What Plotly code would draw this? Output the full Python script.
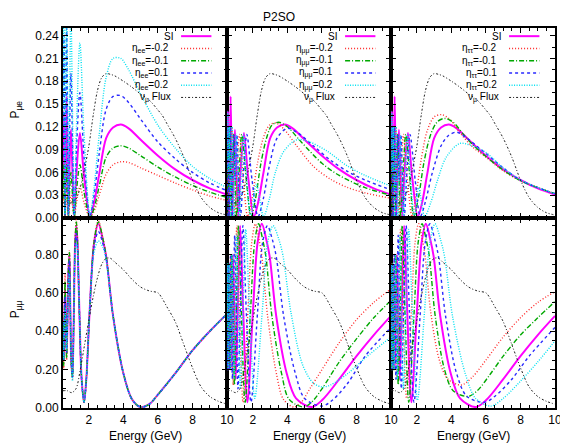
import plotly.graph_objects as go
from plotly.subplots import make_subplots

# ---------------- top row: P_mu e ----------------
E_top_si = [0.50,0.53,0.556,0.585,0.62,0.66,0.71,0.76,0.81,0.88,0.96,1.05,1.15,1.28,1.48,1.72,2.06,2.3,2.6,3.0,3.4,3.85,4.3,5.0,6.0,7.0,8.0,9.0,10.0]
pme_si = [0.05,0.12,0.14,0.07,0.003,0.07,0.16,0.08,0.003,0.07,0.116,0.06,0.002,0.06,0.112,0.055,0.002,0.02,0.058,0.105,0.119,0.123,0.118,0.103,0.082,0.064,0.05,0.039,0.031]

# eta_ee (same energy grid as SI)
pme_ee_m02 = [0.015,0.035,0.045,0.02,0.001,0.015,0.04,0.02,0.001,0.018,0.03,0.016,0.001,0.02,0.042,0.02,0.001,0.009,0.03,0.058,0.07,0.074,0.073,0.066,0.056,0.046,0.037,0.029,0.023]
pme_ee_m01 = [0.025,0.06,0.07,0.035,0.002,0.035,0.07,0.035,0.002,0.035,0.06,0.03,0.001,0.035,0.07,0.034,0.001,0.013,0.042,0.08,0.092,0.095,0.092,0.082,0.067,0.054,0.043,0.034,0.027]
pme_ee_p01 = [0.08,0.2,0.24,0.12,0.004,0.12,0.25,0.13,0.004,0.11,0.19,0.1,0.003,0.09,0.165,0.08,0.003,0.03,0.085,0.143,0.16,0.161,0.152,0.13,0.1,0.078,0.06,0.046,0.036]
pme_ee_p02 = [0.12,0.3,0.35,0.17,0.005,0.17,0.3,0.18,0.005,0.15,0.27,0.14,0.004,0.12,0.23,0.11,0.004,0.04,0.11,0.185,0.21,0.21,0.195,0.163,0.122,0.092,0.068,0.052,0.04]

# eta_mumu
E_mm_m02 = [0.512,0.55,0.586,0.625,0.668,0.73,0.79,0.87,0.95,1.08,1.22,1.45,1.70,1.95,2.25,2.6,2.95,3.32,3.8,4.5,5.5,6.5,7.5,8.5,10.0]
pme_mm_m02 = [0.002,0.08,0.12,0.06,0.002,0.07,0.12,0.06,0.002,0.06,0.11,0.05,0.002,0.025,0.07,0.105,0.122,0.125,0.117,0.096,0.068,0.051,0.04,0.033,0.026]
E_mm_m01 = [0.513,0.54,0.572,0.61,0.656,0.70,0.747,0.81,0.885,0.97,1.06,1.2,1.36,1.62,1.9,2.15,2.45,2.8,3.1,3.5,4.0,4.8,6.0,7.0,8.5,10.0]
pme_mm_m01 = [0.11,0.06,0.002,0.06,0.12,0.06,0.002,0.06,0.11,0.05,0.002,0.06,0.11,0.05,0.002,0.025,0.07,0.106,0.122,0.126,0.12,0.1,0.072,0.056,0.04,0.03]
E_mm_p01 = [0.50,0.56,0.59,0.62,0.66,0.69,0.74,0.79,0.84,0.90,0.98,1.07,1.17,1.28,1.45,1.65,1.95,2.3,2.6,2.95,3.4,3.98,4.6,5.5,6.5,7.5,8.5,10.0]
pme_mm_p01 = [0.002,0.12,0.06,0.002,0.06,0.12,0.06,0.002,0.06,0.11,0.05,0.11,0.05,0.002,0.06,0.11,0.05,0.002,0.025,0.068,0.105,0.118,0.112,0.095,0.076,0.061,0.05,0.037]
E_mm_p02 = [0.50,0.55,0.60,0.64,0.675,0.71,0.75,0.79,0.84,0.90,0.96,1.03,1.12,1.22,1.33,1.46,1.64,1.88,2.2,2.62,2.95,3.3,3.8,4.55,5.3,6.3,7.5,8.5,10.0]
pme_mm_p02 = [0.06,0.14,0.06,0.12,0.06,0.002,0.06,0.12,0.06,0.002,0.06,0.11,0.05,0.002,0.06,0.11,0.05,0.002,0.045,0.002,0.025,0.06,0.088,0.103,0.1,0.088,0.068,0.056,0.042]

# eta_tautau
E_tt_m02 = [0.512,0.55,0.586,0.625,0.668,0.73,0.79,0.87,0.95,1.08,1.22,1.45,1.72,1.95,2.25,2.6,3.0,3.44,3.9,4.5,5.2,6.0,7.0,8.0,9.0,10.0]
pme_tt_m02 = [0.002,0.08,0.12,0.06,0.002,0.07,0.12,0.06,0.002,0.06,0.11,0.05,0.002,0.03,0.077,0.115,0.133,0.136,0.13,0.112,0.094,0.08,0.062,0.049,0.04,0.032]
E_tt_m01 = [0.513,0.54,0.572,0.61,0.656,0.70,0.747,0.81,0.885,0.97,1.06,1.2,1.36,1.6,1.82,2.1,2.4,2.8,3.2,3.63,4.1,4.7,5.3,6.0,7.0,8.0,9.0,10.0]
pme_tt_m01 = [0.11,0.06,0.002,0.06,0.12,0.06,0.002,0.06,0.11,0.05,0.002,0.06,0.11,0.05,0.002,0.028,0.072,0.11,0.127,0.131,0.126,0.11,0.095,0.081,0.063,0.049,0.04,0.032]
E_tt_p01 = [0.50,0.56,0.59,0.62,0.66,0.69,0.74,0.79,0.84,0.90,0.98,1.07,1.17,1.27,1.42,1.6,1.9,2.2,2.5,2.9,3.4,3.8,4.29,4.9,5.5,6.0,7.0,8.0,9.0,10.0]
pme_tt_p01 = [0.002,0.12,0.06,0.002,0.06,0.12,0.06,0.002,0.06,0.11,0.05,0.11,0.05,0.002,0.06,0.11,0.05,0.002,0.022,0.06,0.095,0.108,0.113,0.105,0.094,0.085,0.066,0.05,0.04,0.032]
E_tt_p02 = [0.50,0.55,0.60,0.64,0.675,0.71,0.75,0.79,0.84,0.90,0.96,1.03,1.12,1.22,1.33,1.46,1.64,1.85,2.1,2.45,2.8,3.2,3.7,4.48,5.2,6.0,7.0,8.0,9.0,10.0]
pme_tt_p02 = [0.06,0.14,0.06,0.12,0.06,0.002,0.06,0.12,0.06,0.002,0.06,0.11,0.05,0.002,0.06,0.11,0.05,0.002,0.04,0.002,0.02,0.05,0.08,0.098,0.095,0.086,0.066,0.05,0.04,0.032]

# ---------------- bottom row: P_mu mu ----------------
E_bl = [0.50,0.54,0.58,0.62,0.66,0.71,0.76,0.82,0.87,0.92,0.98,1.05,1.12,1.20,1.27,1.33,1.45,1.58,1.72,1.85,2.04,2.30,2.55,2.80,3.00,3.40,4.00,4.50,5.00,5.50,6.00,7.00,8.00,9.00,10.0]
pmm_ee_si  = [0.45,0.25,0.45,0.62,0.45,0.28,0.45,0.72,0.80,0.55,0.25,0.17,0.45,0.85,0.95,0.88,0.50,0.15,0.03,0.15,0.50,0.86,0.96,0.88,0.79,0.48,0.18,0.045,0.005,0.02,0.07,0.18,0.30,0.40,0.49]
pmm_ee_m02 = [0.45,0.20,0.50,0.70,0.45,0.25,0.45,0.75,0.82,0.55,0.22,0.15,0.45,0.87,0.98,0.90,0.50,0.15,0.03,0.15,0.50,0.87,0.975,0.89,0.79,0.48,0.18,0.045,0.005,0.02,0.07,0.18,0.30,0.40,0.49]
pmm_ee_m01 = [0.45,0.22,0.48,0.66,0.45,0.26,0.45,0.74,0.81,0.55,0.23,0.16,0.45,0.86,0.97,0.89,0.50,0.15,0.03,0.15,0.50,0.865,0.97,0.885,0.79,0.48,0.18,0.045,0.005,0.02,0.07,0.18,0.30,0.40,0.49]
pmm_ee_p01 = [0.45,0.25,0.43,0.58,0.45,0.29,0.45,0.70,0.77,0.55,0.25,0.16,0.45,0.83,0.91,0.86,0.50,0.15,0.03,0.15,0.50,0.84,0.92,0.86,0.78,0.48,0.18,0.045,0.005,0.02,0.07,0.18,0.30,0.40,0.49]
pmm_ee_p02 = [0.45,0.25,0.40,0.52,0.45,0.30,0.45,0.64,0.70,0.55,0.25,0.14,0.45,0.80,0.86,0.83,0.50,0.15,0.03,0.15,0.50,0.81,0.87,0.84,0.77,0.48,0.18,0.045,0.005,0.02,0.07,0.18,0.30,0.40,0.49]

E_mid_si = [0.50,0.53,0.56,0.595,0.63,0.67,0.72,0.78,0.84,0.92,1.008,1.12,1.26,1.44,1.68,2.0,2.27,2.52,2.77,2.97,3.35,3.96,4.5,5.41,6.0,7.0,8.0,9.0,10.0]
pmm_si = [0.75,0.45,0.2,0.45,0.75,0.45,0.2,0.5,0.8,0.5,0.15,0.5,0.95,0.5,0.03,0.5,0.86,0.96,0.88,0.79,0.48,0.18,0.05,0.005,0.04,0.15,0.27,0.38,0.48]

E_mm_b_m02 = [0.50,0.535,0.57,0.61,0.66,0.713,0.78,0.856,0.95,1.07,1.22,1.43,1.71,1.93,2.14,2.35,2.52,2.85,3.36,3.77,4.37,4.8,5.3,6.0,7.0,8.0,9.0,10.0]
pmm_mm_m02 = [0.55,0.75,0.45,0.2,0.5,0.8,0.5,0.12,0.5,0.95,0.5,0.03,0.5,0.86,0.96,0.88,0.79,0.48,0.18,0.045,0.005,0.03,0.1,0.2,0.34,0.46,0.55,0.62]
E_mm_b_m01 = [0.50,0.518,0.55,0.583,0.62,0.666,0.72,0.777,0.85,0.932,1.04,1.165,1.33,1.55,1.86,2.1,2.33,2.56,2.75,3.1,3.66,4.1,4.94,5.4,6.0,7.0,8.0,9.0,10.0]
pmm_mm_m01 = [0.35,0.2,0.45,0.75,0.45,0.2,0.5,0.8,0.5,0.12,0.5,0.95,0.5,0.03,0.5,0.86,0.96,0.88,0.79,0.48,0.18,0.045,0.005,0.03,0.1,0.24,0.36,0.47,0.56]
E_mm_b_p01 = [0.50,0.516,0.54,0.568,0.60,0.631,0.67,0.71,0.76,0.811,0.87,0.947,1.04,1.136,1.27,1.42,1.62,1.89,2.27,2.56,2.84,3.12,3.35,3.78,4.46,5.0,6.0,6.6,7.5,8.5,10.0]
pmm_mm_p01 = [0.4,0.2,0.45,0.75,0.45,0.2,0.5,0.8,0.5,0.15,0.5,0.9,0.5,0.1,0.5,0.95,0.5,0.03,0.5,0.86,0.95,0.88,0.79,0.48,0.18,0.05,0.01,0.04,0.13,0.27,0.42]
E_mm_b_p02 = [0.50,0.528,0.55,0.576,0.60,0.634,0.67,0.704,0.745,0.79,0.85,0.906,0.98,1.057,1.16,1.27,1.42,1.585,1.81,2.11,2.54,2.85,3.17,3.5,3.75,4.2,4.9,5.5,6.0,6.5,7.5,8.5,10.0]
pmm_mm_p02 = [0.45,0.75,0.45,0.2,0.45,0.75,0.45,0.2,0.5,0.8,0.5,0.15,0.5,0.9,0.5,0.1,0.5,0.93,0.5,0.05,0.5,0.86,0.95,0.88,0.79,0.5,0.22,0.13,0.11,0.12,0.18,0.26,0.37]

E_tt_b_m02 = [0.50,0.525,0.56,0.60,0.65,0.70,0.77,0.84,0.94,1.05,1.2,1.4,1.68,1.89,2.1,2.31,2.48,2.8,3.3,3.8,4.58,5.2,6.0,7.0,8.0,9.0,10.0]
pmm_tt_m02 = [0.45,0.75,0.45,0.2,0.5,0.8,0.5,0.15,0.5,0.93,0.5,0.05,0.5,0.86,0.96,0.88,0.79,0.5,0.25,0.15,0.12,0.16,0.25,0.37,0.47,0.55,0.606]
E_tt_b_m01 = [0.50,0.511,0.54,0.575,0.61,0.657,0.71,0.767,0.84,0.92,1.03,1.15,1.31,1.53,1.84,2.07,2.3,2.53,2.72,3.06,3.6,4.1,4.96,5.5,6.2,7.0,8.0,9.0,10.0]
pmm_tt_m01 = [0.3,0.2,0.45,0.75,0.45,0.2,0.5,0.8,0.5,0.12,0.5,0.95,0.5,0.03,0.5,0.86,0.96,0.88,0.79,0.48,0.2,0.09,0.06,0.09,0.17,0.27,0.38,0.47,0.555]
E_tt_b_p01 = [0.50,0.525,0.55,0.58,0.611,0.65,0.688,0.735,0.786,0.85,0.917,1.0,1.1,1.23,1.375,1.57,1.83,2.2,2.48,2.75,3.03,3.25,3.66,4.3,4.9,5.91,6.5,7.5,8.5,10.0]
pmm_tt_p01 = [0.2,0.45,0.75,0.45,0.2,0.5,0.8,0.5,0.15,0.5,0.9,0.5,0.1,0.5,0.95,0.5,0.03,0.5,0.86,0.96,0.88,0.79,0.48,0.18,0.06,0.03,0.06,0.15,0.27,0.42]
E_tt_b_p02 = [0.50,0.508,0.53,0.555,0.58,0.61,0.64,0.678,0.72,0.763,0.82,0.871,0.94,1.017,1.11,1.22,1.36,1.525,1.74,2.03,2.44,2.75,3.05,3.36,3.6,4.06,4.8,5.4,6.29,7.0,8.0,9.0,10.0]
pmm_tt_p02 = [0.7,0.75,0.45,0.2,0.45,0.75,0.45,0.2,0.5,0.8,0.5,0.15,0.5,0.9,0.5,0.1,0.5,0.93,0.5,0.04,0.5,0.86,0.96,0.88,0.79,0.48,0.18,0.05,0.01,0.05,0.14,0.24,0.35]

# ---------------- nu_mu flux (arbitrary scale, drawn in both rows) ----------------
E_flux = [0.5,0.75,1.0,1.25,1.5,1.75,2.0,2.25,2.5,2.75,3.0,3.25,3.5,4.0,4.5,5.0,5.5,6.0,6.25,6.5,7.0,7.5,8.0,8.5,9.0,9.5,10.0]
flux_top = [0.02,0.02,0.02,0.025,0.04,0.065,0.095,0.135,0.168,0.185,0.19,0.189,0.187,0.18,0.172,0.163,0.155,0.142,0.135,0.125,0.105,0.08,0.05,0.027,0.014,0.007,0.004]
flux_bot = [0.09,0.09,0.08,0.10,0.2,0.33,0.46,0.58,0.68,0.75,0.78,0.78,0.76,0.72,0.67,0.63,0.61,0.60,0.57,0.53,0.45,0.33,0.21,0.11,0.06,0.035,0.02]

yticks_top = [0.00,0.03,0.06,0.09,0.12,0.15,0.18,0.21,0.24]
yticks_bot = [0.00,0.20,0.40,0.60,0.80]
xticks = [2,4,6,8,10]

# ---------------- styles ----------------
ST = {
    "si":  dict(color="#ff00ff", width=2.0, dash="solid"),
    "m02": dict(color="#ff2a2a", width=1.4, dash="1px,2px"),
    "m01": dict(color="#00a800", width=1.4, dash="5px,2px,1px,2px"),
    "p01": dict(color="#2a2aff", width=1.4, dash="3px,3px"),
    "p02": dict(color="#00e0f0", width=1.4, dash="1px,1.5px"),
    "flux": dict(color="#202020", width=1.0, dash="2px,2px,1px,2px"),
}

fig = make_subplots(rows=2, cols=3, horizontal_spacing=0, vertical_spacing=0)

def add(x, y, st, r, c):
    fig.add_trace(go.Scatter(x=x, y=y, mode="lines", showlegend=False, hoverinfo="skip",
                             line=dict(shape="spline", smoothing=0.9, **ST[st])), row=r, col=c)

panels = [
    (1, 1, [(E_top_si, pme_si, "si"), (E_top_si, pme_ee_m02, "m02"), (E_top_si, pme_ee_m01, "m01"),
            (E_top_si, pme_ee_p01, "p01"), (E_top_si, pme_ee_p02, "p02"), (E_flux, flux_top, "flux")]),
    (1, 2, [(E_top_si, pme_si, "si"), (E_mm_m02, pme_mm_m02, "m02"), (E_mm_m01, pme_mm_m01, "m01"),
            (E_mm_p01, pme_mm_p01, "p01"), (E_mm_p02, pme_mm_p02, "p02"), (E_flux, flux_top, "flux")]),
    (1, 3, [(E_top_si, pme_si, "si"), (E_tt_m02, pme_tt_m02, "m02"), (E_tt_m01, pme_tt_m01, "m01"),
            (E_tt_p01, pme_tt_p01, "p01"), (E_tt_p02, pme_tt_p02, "p02"), (E_flux, flux_top, "flux")]),
    (2, 1, [(E_bl, pmm_ee_si, "si"), (E_bl, pmm_ee_m02, "m02"), (E_bl, pmm_ee_m01, "m01"),
            (E_bl, pmm_ee_p01, "p01"), (E_bl, pmm_ee_p02, "p02"), (E_flux, flux_bot, "flux")]),
    (2, 2, [(E_mid_si, pmm_si, "si"), (E_mm_b_m02, pmm_mm_m02, "m02"), (E_mm_b_m01, pmm_mm_m01, "m01"),
            (E_mm_b_p01, pmm_mm_p01, "p01"), (E_mm_b_p02, pmm_mm_p02, "p02"), (E_flux, flux_bot, "flux")]),
    (2, 3, [(E_mid_si, pmm_si, "si"), (E_tt_b_m02, pmm_tt_m02, "m02"), (E_tt_b_m01, pmm_tt_m01, "m01"),
            (E_tt_b_p01, pmm_tt_p01, "p01"), (E_tt_b_p02, pmm_tt_p02, "p02"), (E_flux, flux_bot, "flux")]),
]
for r, c, curves in panels:
    for x, y, st in curves:
        add(x, y, st, r, c)

FONT = "Liberation Sans, Arial, sans-serif"
axis_common = dict(showline=True, linecolor="black", linewidth=1.8, mirror="allticks",
                   ticks="inside", ticklen=5, tickwidth=1, tickcolor="black",
                   showgrid=False, zeroline=False, tickfont=dict(family=FONT, size=12))
for r in (1, 2):
    for c in (1, 2, 3):
        fig.update_xaxes(range=[0.5, 10], tickvals=xticks, ticktext=[str(v) for v in xticks],
                         showticklabels=(r == 2),
                         minor=dict(dtick=0.5, tick0=0, ticks="inside", ticklen=3, tickcolor="black"),
                         row=r, col=c, **axis_common)
        if r == 1:
            fig.update_yaxes(range=[0, 0.25], tickvals=yticks_top,
                             ticktext=["%.2f" % v for v in yticks_top],
                             showticklabels=(c == 1),
                             minor=dict(tickvals=[v + 0.015 for v in yticks_top], ticks="inside",
                                        ticklen=3, tickcolor="black"),
                             row=r, col=c, **axis_common)
        else:
            fig.update_yaxes(range=[0, 0.99], tickvals=yticks_bot,
                             ticktext=["%.2f" % v for v in yticks_bot],
                             showticklabels=(c == 1),
                             minor=dict(dtick=0.05, tick0=0, ticks="inside", ticklen=3, tickcolor="black"),
                             row=r, col=c, **axis_common)

# legends in top panels
labels_sub = {1: "ee", 2: "\u03bc\u03bc", 3: "\u03c4\u03c4"}
ann = []
shapes = []
for c in (1, 2, 3):
    xr = "x" if c == 1 else "x%d" % c
    yr = "y" if c == 1 else "y%d" % c
    s = labels_sub[c]
    entries = [("SI", "si", 0.685),
               ("\u03b7<sub>%s</sub>=-0.2" % s, "m02", 0.66),
               ("\u03b7<sub>%s</sub>=-0.1" % s, "m01", 0.66),
               ("\u03b7<sub>%s</sub>=0.1" % s, "p01", 0.66),
               ("\u03b7<sub>%s</sub>=0.2" % s, "p02", 0.66),
               ("\u03bd<sub>\u03bc</sub> Flux", "flux", 0.67)]
    for i, (txt, st, xt) in enumerate(entries):
        yy = 0.957 - i * 0.0645
        ann.append(dict(text=txt, xref=xr + " domain", yref=yr + " domain", x=xt, y=yy,
                        xanchor="right", yanchor="middle", showarrow=False,
                        font=dict(family=FONT, size=10, color="black")))
        l = ST[st]
        shapes.append(dict(type="line", xref=xr + " domain", yref=yr + " domain",
                           x0=0.72, x1=0.905, y0=yy, y1=yy,
                           line=dict(color=l["color"], width=l["width"], dash=l["dash"])))

ann.append(dict(text="P2SO", xref="paper", yref="paper", x=0.44, y=1.0526, showarrow=False,
                xanchor="center", yanchor="top", font=dict(family=FONT, size=12, color="black")))
ann.append(dict(text="P<sub>\u03bce</sub>", xref="paper", yref="paper", x=-0.096, y=0.785,
                textangle=-90, showarrow=False, xanchor="center", yanchor="middle",
                font=dict(family=FONT, size=12, color="black")))
ann.append(dict(text="P<sub>\u03bc\u03bc</sub>", xref="paper", yref="paper", x=-0.096, y=0.259,
                textangle=-90, showarrow=False, xanchor="center", yanchor="middle",
                font=dict(family=FONT, size=12, color="black")))
for xc in (1/6, 0.5, 5/6):
    ann.append(dict(text="Energy (GeV)", xref="paper", yref="paper", x=xc, y=-0.074,
                    showarrow=False, xanchor="center", yanchor="middle",
                    font=dict(family=FONT, size=12, color="black")))

# the page adds an 8px body margin, so the figure is 8px smaller than the window
fig.update_layout(width=560, height=438, margin=dict(l=55, r=6.5, t=20, b=37.5),
                  paper_bgcolor="white", plot_bgcolor="white",
                  font=dict(family=FONT, size=11, color="black"),
                  annotations=ann, shapes=shapes)
fig.write_html("out.html")
